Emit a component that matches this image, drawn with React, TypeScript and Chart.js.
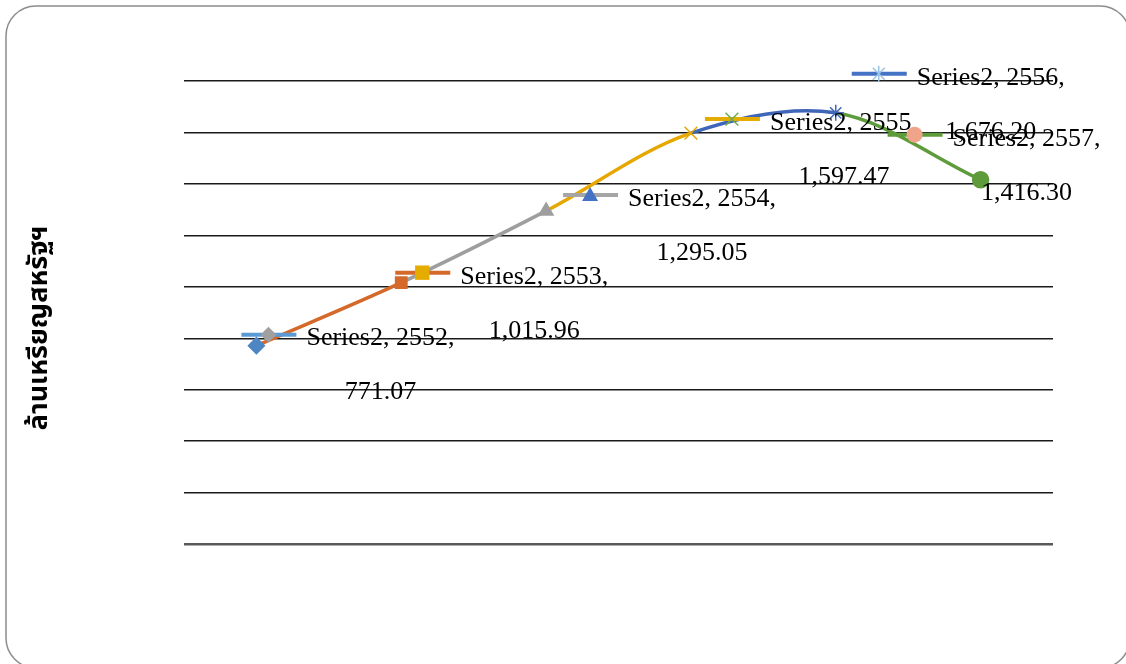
import React, { useEffect, useRef } from "react";
import { Chart, registerables } from "chart.js";

Chart.register(...registerables);

const YEARS = ["2552", "2553", "2554", "2555", "2556", "2557"];
const VALUES = [771.07, 1015.96, 1295.05, 1597.47, 1676.2, 1416.3];
const VALUE_LABELS = ["771.07", "1,015.96", "1,295.05", "1,597.47", "1,676.20", "1,416.30"];
const SERIES_NAME = "Series2";
const Y_TITLE = "ล้านเหรียญสหรัฐฯ";
const Y_MIN = 0;
const Y_MAX = 1800;
const Y_STEP = 200;

// styles
const POINT_STYLES = ["rectRot", "rect", "triangle", "crossRot", "star", "circle"];
const POINT_COLORS = ["#4E86C4", "#D4692A", "#9E9E9E", "#E5A800", "#3F66B8", "#5E9B3A"];
const KEY_LINE_COLORS = ["#5B9BD5", "#D4692A", "#A5A5A5", "#E5AC00", "#4472C4", "#5E9B3A"];
const KEY_MARK_COLORS = ["#A0A0A0", "#E5AC00", "#4472C4", "#70AD47", "#9DC3E6", "#F0A58A"];
// label layout offsets relative to each point: key start x, line1 center y
const LABEL_DX = [-15, -6, 17, 14, 16, -93];
const LABEL_DY = [-7, -6, -12, -10, -35, -41];

function drawMarker(ctx: CanvasRenderingContext2D, style: string, x: number, y: number, r: number, color: string) {
  ctx.save();
  ctx.fillStyle = color;
  ctx.strokeStyle = color;
  ctx.lineWidth = 1.5;
  ctx.beginPath();
  if (style === "rectRot") {
    ctx.moveTo(x, y - r);
    ctx.lineTo(x + r, y);
    ctx.lineTo(x, y + r);
    ctx.lineTo(x - r, y);
    ctx.closePath();
    ctx.fill();
  } else if (style === "rect") {
    const s = r * 0.9;
    ctx.rect(x - s, y - s, 2 * s, 2 * s);
    ctx.fill();
  } else if (style === "triangle") {
    ctx.moveTo(x, y - r);
    ctx.lineTo(x + r, y + r * 0.75);
    ctx.lineTo(x - r, y + r * 0.75);
    ctx.closePath();
    ctx.fill();
  } else if (style === "crossRot") {
    const s = r * 0.8;
    ctx.moveTo(x - s, y - s);
    ctx.lineTo(x + s, y + s);
    ctx.moveTo(x + s, y - s);
    ctx.lineTo(x - s, y + s);
    ctx.stroke();
  } else if (style === "star") {
    const s = r * 0.75;
    ctx.moveTo(x - s, y - s);
    ctx.lineTo(x + s, y + s);
    ctx.moveTo(x + s, y - s);
    ctx.lineTo(x - s, y + s);
    ctx.moveTo(x, y - r);
    ctx.lineTo(x, y + r);
    ctx.stroke();
  } else {
    ctx.arc(x, y, r, 0, Math.PI * 2);
    ctx.fill();
  }
  ctx.restore();
}

const decorPlugin = {
  id: "decor",
  beforeDraw(chart: any) {
    const ctx = chart.ctx as CanvasRenderingContext2D;
    ctx.save();
    ctx.fillStyle = "#ffffff";
    ctx.fillRect(0, 0, chart.width, chart.height);
    // card border
    const x = 6, y = 6, w = 1124, h = 662, r = 30;
    ctx.beginPath();
    ctx.moveTo(x + r, y);
    ctx.lineTo(x + w - r, y);
    ctx.arcTo(x + w, y, x + w, y + r, r);
    ctx.lineTo(x + w, y + h - r);
    ctx.arcTo(x + w, y + h, x + w - r, y + h, r);
    ctx.lineTo(x + r, y + h);
    ctx.arcTo(x, y + h, x, y + h - r, r);
    ctx.lineTo(x, y + r);
    ctx.arcTo(x, y, x + r, y, r);
    ctx.closePath();
    ctx.strokeStyle = "#8c8c8c";
    ctx.lineWidth = 1.5;
    ctx.stroke();
    // y title
    ctx.translate(42, 328);
    ctx.rotate(-Math.PI / 2);
    ctx.font = "bold 27px 'Noto Sans Thai', Tahoma, 'DejaVu Sans', sans-serif";
    ctx.fillStyle = "#000";
    ctx.textAlign = "center";
    ctx.textBaseline = "middle";
    ctx.fillText(Y_TITLE, 0, 0);
    ctx.restore();
  },
  afterDatasetsDraw(chart: any) {
    const ctx = chart.ctx as CanvasRenderingContext2D;
    const meta = chart.getDatasetMeta(0);
    ctx.save();
    ctx.font = "26px 'Liberation Serif', 'Times New Roman', serif";
    ctx.textBaseline = "middle";
    meta.data.forEach((pt: any, i: number) => {
      const kx = pt.x + LABEL_DX[i];
      const ly = pt.y + LABEL_DY[i];
      const ky = ly - 4;
      // legend key line
      ctx.strokeStyle = KEY_LINE_COLORS[i];
      ctx.lineWidth = 4;
      ctx.lineCap = "butt";
      ctx.beginPath();
      ctx.moveTo(kx, ky);
      ctx.lineTo(kx + 55, ky);
      ctx.stroke();
      drawMarker(ctx, POINT_STYLES[i], kx + 27, ky, 8, KEY_MARK_COLORS[i]);
      // text
      const line1 = `${SERIES_NAME}, ${YEARS[i]},`;
      const tx = kx + 65;
      ctx.fillStyle = "#000";
      ctx.textAlign = "left";
      ctx.fillText(line1, tx, ly);
      const w = ctx.measureText(line1).width;
      ctx.textAlign = "center";
      ctx.fillText(VALUE_LABELS[i], tx + w / 2, ly + 54);
    });
    ctx.restore();
  },
};

export default function App() {
  const ref = useRef<HTMLCanvasElement>(null);
  useEffect(() => {
    if (!ref.current) return;
    const chart = new Chart(ref.current, {
      type: "line",
      data: {
        labels: YEARS,
        datasets: [
          {
            label: SERIES_NAME,
            data: VALUES,
            tension: 0.33,
            borderWidth: 3.5,
            borderColor: POINT_COLORS[0],
            segment: {
              borderColor: (c: any) => POINT_COLORS[c.p1DataIndex],
            },
            pointStyle: POINT_STYLES as any,
            pointRadius: [8, 8, 8, 9, 8, 8],
            pointBorderWidth: 1.5,
            pointBackgroundColor: POINT_COLORS,
            pointBorderColor: POINT_COLORS,
          },
        ],
      },
      options: {
        animation: false,
        responsive: false,
        maintainAspectRatio: false,
        layout: { padding: { left: 184, top: 81, right: 73, bottom: 120 } },
        plugins: { legend: { display: false }, tooltip: { enabled: false }, title: { display: false } },
        scales: {
          x: {
            type: "category",
            offset: true,
            grid: { display: false, drawTicks: false },
            border: { display: false },
            ticks: { display: false },
          },
          y: {
            min: Y_MIN,
            max: Y_MAX,
            ticks: { display: false, stepSize: Y_STEP },
            grid: {
              drawTicks: false,
              color: (c: any) => (c.tick && c.tick.value === 0 ? "#595959" : "#1a1a1a"),
              lineWidth: (c: any) => (c.tick && c.tick.value === 0 ? 2.5 : 1.4),
            },
            border: { display: false },
          },
        },
      },
      plugins: [decorPlugin],
    });
    return () => chart.destroy();
  }, []);
  return (
    <div style={{ position: "absolute", left: 0, top: 0, width: 1126, height: 664 }}>
      <canvas ref={ref} width={1126} height={664} style={{ width: 1126, height: 664 }} />
    </div>
  );
}
